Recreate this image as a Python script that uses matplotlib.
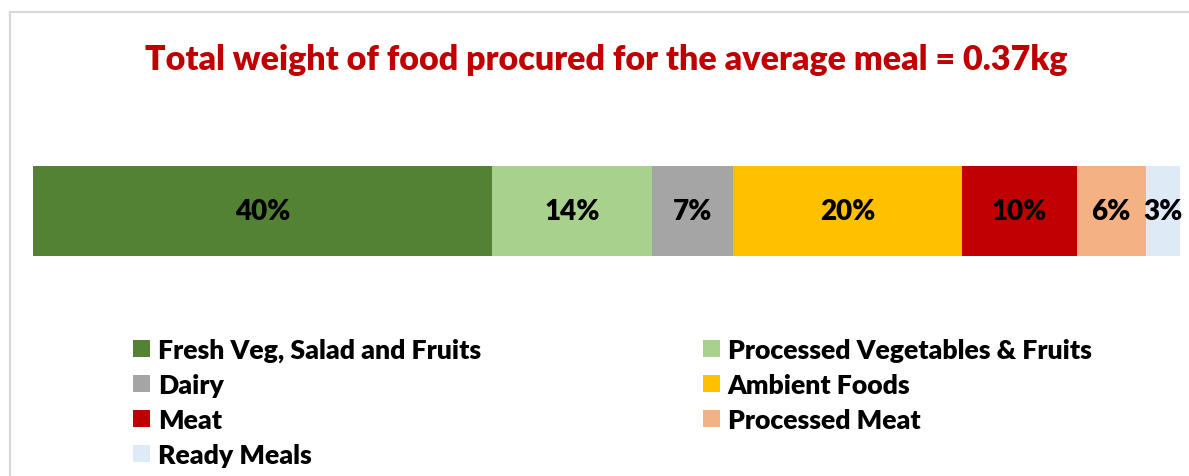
import matplotlib.pyplot as plt
from matplotlib.patches import Rectangle

plt.rcParams['font.family'] = ['Lato', 'DejaVu Sans']

categories = ['Fresh Veg, Salad and Fruits', 'Processed Vegetables & Fruits', 'Dairy',
              'Ambient Foods', 'Meat', 'Processed Meat', 'Ready Meals']
shares = [40, 14, 7, 20, 10, 6, 3]
colors = ['#548235', '#A9D18E', '#A5A5A5', '#FFC000', '#C00000', '#F4B183', '#DEEBF7']
title = 'Total weight of food procured for the average meal = 0.37kg'

W, H = 1189, 477
fig = plt.figure(figsize=(W / 100, H / 100), dpi=100)

# light chart-area border (top and left edges visible)
fig.patches.append(Rectangle((10 / W, -0.1), 1.2, 1 - 13 / H + 0.1, transform=fig.transFigure,
                             fill=False, edgecolor='#D9D9D9', linewidth=1.6))

fig.text(606 / W, 1 - 70 / H, title, ha='center', va='baseline',
         fontsize=24.5, fontweight='heavy', color='#C00000')

ax = fig.add_axes([33 / W, 1 - 257 / H, (1180 - 33) / W, 90 / H])
left = 0
bars = []
for cat, val, col in zip(categories, shares, colors):
    b = ax.barh(0, val, left=left, height=1, color=col, label=cat)
    bars.append(b)
    ax.text(left + val / 2, 0, f'{val}%', ha='center', va='center',
            fontsize=20, fontweight='heavy', color='black')
    left += val
ax.set_xlim(0, 100)
ax.set_ylim(-0.5, 0.5)
ax.axis('off')

# two legend columns, filled row by row
leg_kw = dict(loc='upper left', frameon=False, borderpad=0, borderaxespad=0,
              handlelength=0.63, handleheight=0.6, handletextpad=0.3, labelspacing=0.41,
              prop={'weight': 'heavy', 'size': 19.2})
fig.legend([bars[i] for i in (0, 2, 4, 6)], [categories[i] for i in (0, 2, 4, 6)],
           bbox_to_anchor=(133 / W, 1 - 339 / H), **leg_kw)
fig.legend([bars[i] for i in (1, 3, 5)], [categories[i] for i in (1, 3, 5)],
           bbox_to_anchor=(703 / W, 1 - 339 / H), **leg_kw)

fig.savefig('out.png', dpi=100)
